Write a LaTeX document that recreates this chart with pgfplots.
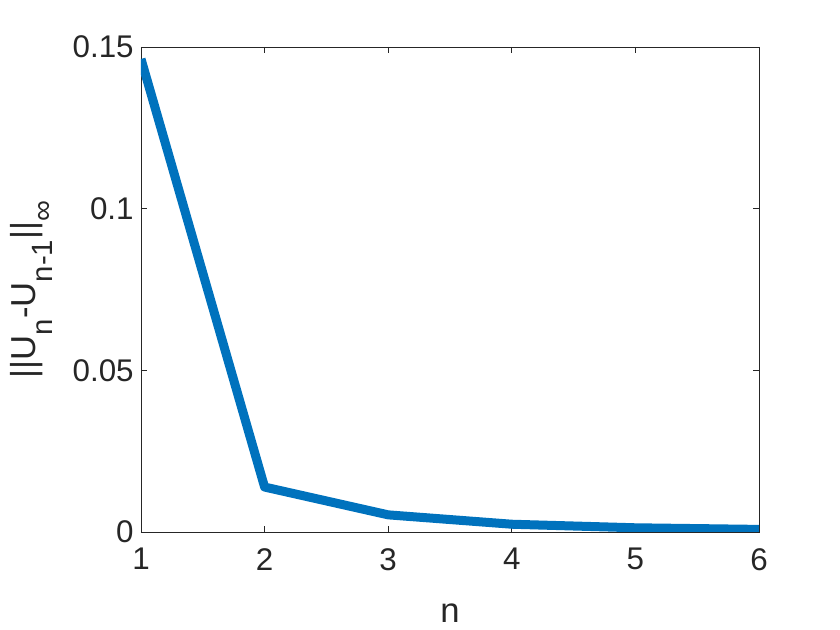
\documentclass[border=0pt]{standalone}
\usepackage{fontspec}
\setmainfont{Liberation Sans}
\usepackage{pgfplots}
\pgfplotsset{compat=1.18}
\definecolor{mblue}{RGB}{0,114,189}
\definecolor{mgray}{RGB}{38,38,38}
\newcommand\lsub[1]{\raisebox{-13pt}{\fontsize{22}{26}\selectfont #1}}
\begin{document}
\begin{tikzpicture}[x=0.75pt,y=0.75pt]
\useasboundingbox (0,0) rectangle (840,630);
\begin{axis}[
    at={(141*0.75pt,98*0.75pt)}, anchor=south west,
    scale only axis,
    width=463.5pt, height=363.75pt,
    xmin=1, xmax=6, ymin=0, ymax=0.15,
    xtick={1,2,3,4,5,6},
    ytick={0,0.05,0.1,0.15},
    yticklabels={0,0.05,0.1,0.15},
    tick align=inside,
    major tick length=4.5pt,
    axis line style={mgray, line width=0.6pt},
    every tick/.style={mgray, line width=0.6pt},
    tick label style={font=\fontsize{23.5}{28}\selectfont, text=mgray},
    label style={font=\fontsize{26}{31}\selectfont, text=mgray},
    /pgf/number format/assume math mode=true,
    xticklabel style={yshift=-8.7pt},
    yticklabel style={xshift=-2pt},
    xlabel={n},
    ylabel={||U\lsub{n}-U\lsub{n-1}||\lsub{∞}},
    xlabel style={at={(axis description cs:0.5,0)}, anchor=base, yshift=-68.25pt},
    ylabel style={at={(axis description cs:-0.1715,0.5)}, anchor=base},
]
\addplot[mblue, line width=6.75pt, line join=round] coordinates {
    (1,0.1463) (2,0.0139) (3,0.0053) (4,0.0024) (5,0.0013) (6,0.0008)
};
\end{axis}
\end{tikzpicture}
\end{document}
